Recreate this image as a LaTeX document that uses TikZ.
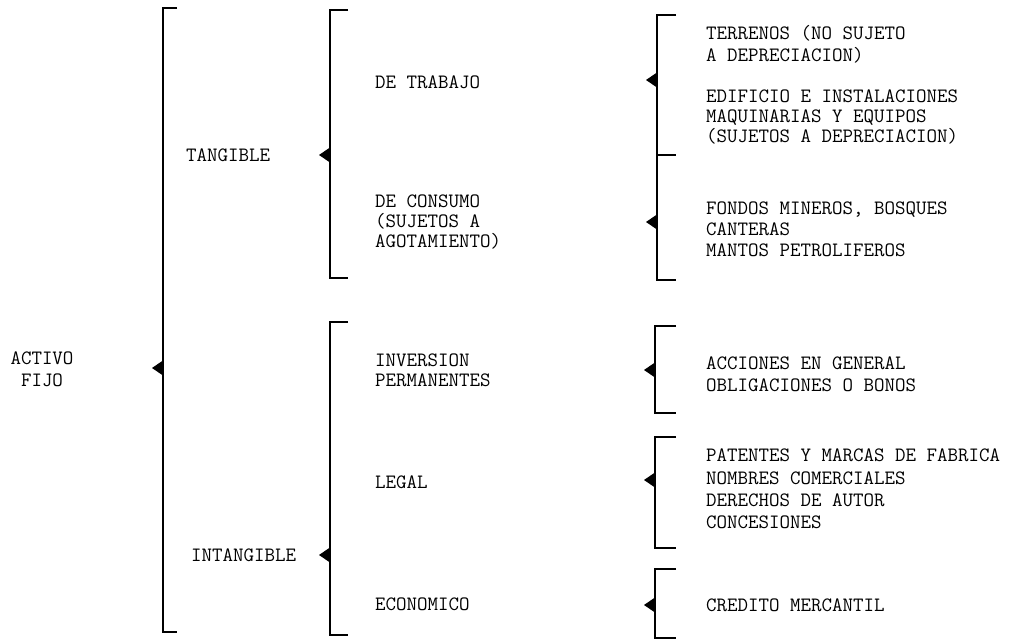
\documentclass[tikz,border=0pt]{standalone}
\usepackage{fontspec}
\usetikzlibrary{positioning}

\begin{document}
\begin{tikzpicture}[x=0.02cm, y=-0.02cm, line width=1.3pt,
        txt/.style={font=\ttfamily\fontsize{11.6pt}{12.4pt}\selectfont, align=left, anchor=west, inner sep=0},
        tip/.pic={\fill (0,-7.5) -- (-11,0) -- (0,7.5) -- cycle;}]
        \useasboundingbox (0,0) rectangle (1015,641);
        % first level
        \node [txt, align=center, anchor=center] (activo) at (42,369) {ACTIVO\\FIJO};
        \draw (177,8) -| (163,632) -- (177,632);
        \pic at (163,368) {tip};
        % tangible
        \node [txt] (tangible) at (185,155) {TANGIBLE};
        \draw (348,10) -| (330,278) -- (348,278);
        \pic at (330,155) {tip};
        \node [txt] (trabajo) at (374,82) {DE TRABAJO};
        \node [txt, font=\ttfamily\fontsize{11.6pt}{11.5pt}\selectfont] (consumo) at (374,222) {DE CONSUMO\\(SUJETOS A\\AGOTAMIENTO)};
        % intangible
        \node [txt] (intangible) at (190,555) {INTANGIBLE};
        \draw (348,322) -| (330,635) -- (348,635);
        \pic at (330,555) {tip};
        \node [txt, font=\ttfamily\fontsize{11.6pt}{11.5pt}\selectfont] (inversion) at (374,370) {INVERSION\\PERMANENTES};
        \node [txt] (legal) at (374,482) {LEGAL};
        \node [txt] (economico) at (374,604) {ECONOMICO};
        % third level, tangible
        \draw (676,15) -| (657,280) -- (676,280);
        \draw (657,155) -- (676,155);
        \pic at (657,80) {tip};
        \pic at (657,222) {tip};
        \node [txt] (terrenos) at (705,44) {TERRENOS (NO SUJETO\\A DEPRECIACION)};
        \node [txt, font=\ttfamily\fontsize{11.6pt}{11.5pt}\selectfont] (edificio) at (705,117) {EDIFICIO E INSTALACIONES\\MAQUINARIAS Y EQUIPOS\\(SUJETOS A DEPRECIACION)};
        \node [txt, font=\ttfamily\fontsize{11.6pt}{12pt}\selectfont] (fondos) at (705,229) {FONDOS MINEROS, BOSQUES\\CANTERAS\\MANTOS PETROLIFEROS};
        % third level, intangible
        \draw (676,326) -| (655,413) -- (676,413);
        \pic at (655,370) {tip};
        \node [txt] (acciones) at (705,374) {ACCIONES EN GENERAL\\OBLIGACIONES O BONOS};
        \draw (676,437) -| (655,548) -- (676,548);
        \pic at (655,480) {tip};
        \node [txt, font=\ttfamily\fontsize{11.6pt}{12.8pt}\selectfont] (patentes) at (705,489) {PATENTES Y MARCAS DE FABRICA\\NOMBRES COMERCIALES\\DERECHOS DE AUTOR\\CONCESIONES};
        \draw (676,569) -| (655,638) -- (676,638);
        \pic at (655,605) {tip};
        \node [txt] (credito) at (705,605) {CREDITO MERCANTIL};
    \end{tikzpicture}
\end{document}
